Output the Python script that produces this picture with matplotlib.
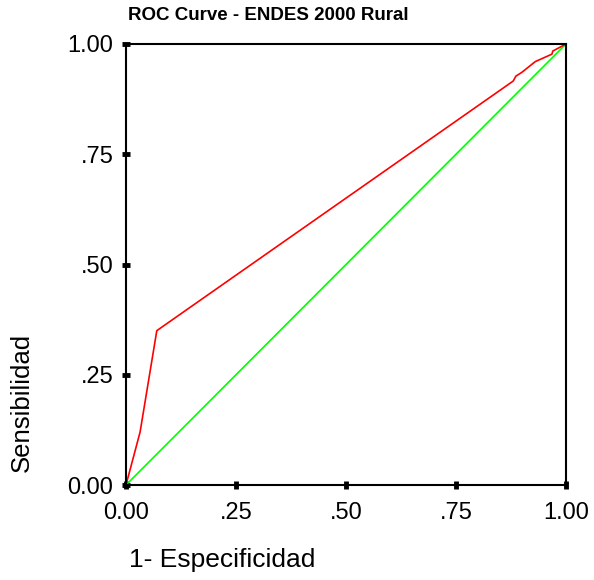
import matplotlib.pyplot as plt

# ROC curve points (1 - specificity, sensitivity)
fpr = [0.0, 0.032, 0.07, 0.88, 0.886, 0.90, 0.93, 0.968, 0.97, 1.0]
tpr = [0.0, 0.12, 0.35, 0.916, 0.927, 0.936, 0.96, 0.977, 0.984, 1.0]
ref_line = [0.0, 1.0]

tick_pos = [0.0, 0.25, 0.5, 0.75, 1.0]
tick_lab = ["0.00", ".25", ".50", ".75", "1.00"]

plt.rcParams['font.family'] = ['Liberation Sans', 'DejaVu Sans']

fig = plt.figure(figsize=(5.94, 5.8), dpi=100)
ax = fig.add_axes([126/594, 95/580, 440/594, 441/580])

ax.plot(ref_line, ref_line, color='#00ff00', lw=1.2)
ax.plot(fpr, tpr, color='#ff0000', lw=1.2)

ax.set_xlim(0, 1)
ax.set_ylim(0, 1)
ax.set_xticks(tick_pos)
ax.set_xticklabels(tick_lab)
ax.set_yticks(tick_pos)
ax.set_yticklabels(tick_lab)
ax.tick_params(direction='inout', length=6, width=3.5, labelsize=17)
ax.tick_params(axis='x', pad=9)
ax.tick_params(axis='y', pad=6)
for s in ax.spines.values():
    s.set_linewidth(1.5)

fig.text(128/594, 1 - 15/580, "ROC Curve - ENDES 2000 Rural", fontsize=13.5,
         fontweight='bold', va='center', ha='left')
fig.text(129/594, 1 - 567/580, "1- Especificidad", fontsize=19,
         va='baseline', ha='left')
fig.text(22/594, 1 - 472/580, "Sensibilidad", fontsize=18.5, rotation=90,
         va='bottom', ha='center')

fig.savefig("out.png", dpi=100)
